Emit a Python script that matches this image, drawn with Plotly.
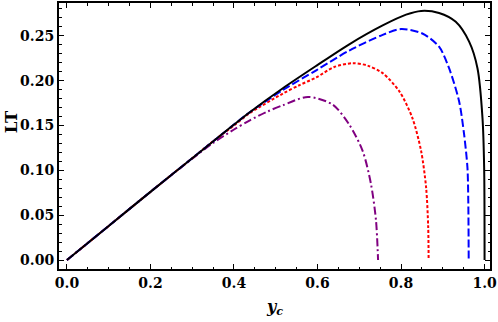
import plotly.graph_objects as go

# curves (y_c, LT)
black_x = [0.0, 0.1, 0.2, 0.3, 0.4, 0.437, 0.517, 0.597, 0.676, 0.756, 0.812, 0.848, 0.891, 0.931, 0.963, 0.983, 0.995, 0.999, 1.0]
black_y = [0.0, 0.038, 0.076, 0.1135, 0.151, 0.1645, 0.1915, 0.2165, 0.2405, 0.2615, 0.2735, 0.2777, 0.2754, 0.2655, 0.2434, 0.2138, 0.1585, 0.103, 0.0]

blue_x = [0.0, 0.1, 0.2, 0.3, 0.4, 0.437, 0.517, 0.597, 0.676, 0.756, 0.80, 0.851, 0.891, 0.915, 0.939, 0.951, 0.959, 0.961, 0.962]
blue_y = [0.0, 0.038, 0.076, 0.1135, 0.151, 0.1645, 0.1895, 0.2115, 0.2335, 0.251, 0.2575, 0.2525, 0.2378, 0.2138, 0.177, 0.140, 0.103, 0.066, 0.0]

red_x = [0.0, 0.1, 0.2, 0.3, 0.35, 0.4, 0.437, 0.517, 0.557, 0.597, 0.64, 0.684, 0.72, 0.756, 0.796, 0.827, 0.848, 0.86, 0.865, 0.866]
red_y = [0.0, 0.038, 0.076, 0.1135, 0.1325, 0.150, 0.1635, 0.1855, 0.195, 0.2035, 0.2152, 0.2194, 0.2167, 0.2083, 0.188, 0.1585, 0.1217, 0.081, 0.037, 0.0]

purple_x = [0.0, 0.1, 0.2, 0.3, 0.35, 0.4, 0.437, 0.48, 0.517, 0.577, 0.636, 0.676, 0.708, 0.728, 0.74, 0.745]
purple_y = [0.0, 0.038, 0.076, 0.113, 0.1305, 0.1455, 0.1555, 0.1655, 0.1725, 0.1818, 0.1733, 0.151, 0.1217, 0.0848, 0.0442, 0.0]

fig = go.Figure()

def add_curve(x, y, color, dash):
    fig.add_trace(go.Scatter(x=x, y=y, mode='lines',
                             line=dict(color=color, width=2, dash=dash, shape='spline', smoothing=0.8)))

add_curve(purple_x, purple_y, 'rgb(128,0,128)', '8px,3px,2px,3px')
add_curve(red_x, red_y, 'rgb(255,0,0)', '3px,2px')
add_curve(blue_x, blue_y, 'rgb(0,0,255)', '8px,3px')
add_curve(black_x, black_y, 'black', 'solid')

tick_font = dict(family='DejaVu Serif', size=14, color='black', weight='bold')

fig.update_xaxes(range=[-0.019, 1.013], dtick=0.2, tickformat='.1f',
                 showline=True, linecolor='black', linewidth=2, mirror='allticks',
                 ticks='inside', ticklen=5, tickwidth=1.2, tickcolor='black',
                 minor=dict(ticks='inside', ticklen=2.5, dtick=0.05, tickcolor='black'),
                 showgrid=False, zeroline=False, tickfont=tick_font)
fig.update_yaxes(range=[-0.01, 0.2865], dtick=0.05, tickformat='.2f',
                 showline=True, linecolor='black', linewidth=2, mirror='allticks',
                 ticks='inside', ticklen=5, tickwidth=1.2, tickcolor='black',
                 minor=dict(ticks='inside', ticklen=2.5, dtick=0.01, tickcolor='black'),
                 showgrid=False, zeroline=False, tickfont=tick_font)

fig.add_annotation(text='<b>LT</b>', xref='paper', yref='paper', x=-0.111, y=0.552,
                   xanchor='center', yanchor='middle', showarrow=False, textangle=-90,
                   font=dict(family='DejaVu Serif', size=16.5, color='black'))
fig.add_annotation(text='<b><i>y</i><sub><i>c</i></sub></b>', xref='paper', yref='paper',
                   x=0.5, y=-0.145, xanchor='center', yanchor='middle', showarrow=False,
                   font=dict(family='DejaVu Serif', size=16, color='black'))

fig.update_layout(width=498, height=322, showlegend=False,
                  margin=dict(l=59, r=7, t=1, b=53),
                  plot_bgcolor='white', paper_bgcolor='white')

fig.write_html("out.html", config={'displayModeBar': False},
               post_script="document.body.style.margin='0';")
